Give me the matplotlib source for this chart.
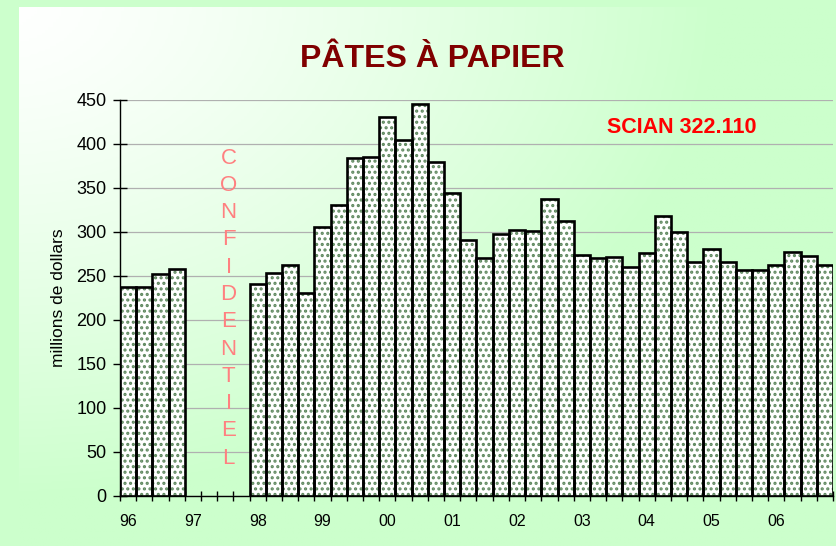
import numpy as np
import matplotlib
matplotlib.use("Agg")
import matplotlib.pyplot as plt
from matplotlib.colors import LinearSegmentedColormap

plt.rcParams['font.family'] = ['Liberation Sans', 'DejaVu Sans']
plt.rcParams['hatch.linewidth'] = 1.5

# quarterly shipments, millions of dollars (1997 is confidential)
years = ["96", "97", "98", "99", "00", "01", "02", "03", "04", "05", "06"]
q96 = [237, 237, 252, 258]
q97 = [np.nan, np.nan, np.nan, np.nan]
q98 = [241, 253, 263, 231]
q99 = [306, 331, 384, 385]
q00 = [431, 404, 446, 380]
q01 = [344, 291, 271, 298]
q02 = [302, 301, 337, 312]
q03 = [274, 271, 272, 260]
q04 = [276, 318, 300, 266]
q05 = [281, 266, 257, 257]
q06 = [262, 277, 273, 262]
yticks = list(range(0, 451, 50))

values = np.array(q96 + q97 + q98 + q99 + q00 + q01 + q02 + q03 + q04 + q05 + q06, dtype=float)
x = np.arange(len(values))

W, H = 837, 546
fig = plt.figure(figsize=(W / 100, H / 100), dpi=100)
fig.patch.set_facecolor('#ccffcc')

# background panel: white in the top-left corner fading to pale green
bg = fig.add_axes([19 / W, 0, 1 - 19 / W, 1 - 7 / H])
gx, gy = np.meshgrid(np.linspace(19, W, 300), np.linspace(7, H, 200))
t = np.clip(np.sqrt((gx / 720.0) ** 2 + (gy / 500.0) ** 2), 0, 1) ** 1.3
cmap = LinearSegmentedColormap.from_list('panel', ['#ffffff', '#ccffcc'])
bg.imshow(t, cmap=cmap, aspect='auto', extent=[0, 1, 0, 1], vmin=0, vmax=1)
bg.set_axis_off()

ax = fig.add_axes([120 / W, 1 - 496 / H, 713 / W, 396 / H])
ax.set_facecolor('none')

# dotted fill, then black outlines on top
ax.bar(x, values, width=1.0, color='white', edgecolor='#5f885f', hatch='...', linewidth=0, zorder=2)
ax.bar(x, values, width=1.0, fill=False, edgecolor='black', linewidth=1.9, zorder=3)

ax.set_xlim(-0.5, len(values) - 0.5)
ax.set_ylim(0, 450)
ax.set_yticks(yticks)
ax.grid(axis='y', color='#b0b0b0', linewidth=0.9, zorder=0)
ax.set_axisbelow(True)

# tick marks on quarter boundaries, year labels under the first quarter
ax.set_xticks(np.arange(-0.5, len(values), 1.0))
ax.set_xticklabels([])
ax.set_xticks(np.arange(0, len(values), 4), minor=True)
ax.set_xticklabels(years, minor=True)
ax.tick_params(axis='x', which='major', direction='inout', length=7, width=1)
ax.tick_params(axis='x', which='minor', length=0, pad=13, labelsize=11.5)
ax.tick_params(axis='y', direction='inout', length=9.5, width=1, labelsize=13, pad=5)

for side in ('top', 'right'):
    ax.spines[side].set_visible(False)
ax.spines['left'].set_linewidth(1)
ax.spines['bottom'].set_linewidth(1)

ax.set_ylabel('millions de dollars', fontsize=12.5, labelpad=7)

# vertical "CONFIDENTIEL" in the 1997 gap
for i, ch in enumerate("CONFIDENTIEL"):
    ax.text(6.2, 384 - 31 * i, ch, color='#ff8080', fontsize=16,
            ha='center', va='center', zorder=4)

fig.text(432 / W, 1 - 67 / H, 'PÂTES À PAPIER', color='#800000', fontsize=23,
         fontweight='bold', ha='center', va='baseline')
fig.text(607 / W, 1 - 133 / H, 'SCIAN 322.110', color='#ff0000', fontsize=15.5,
         fontweight='bold', ha='left', va='baseline')

fig.savefig('out.png', dpi=100, facecolor=fig.get_facecolor())
